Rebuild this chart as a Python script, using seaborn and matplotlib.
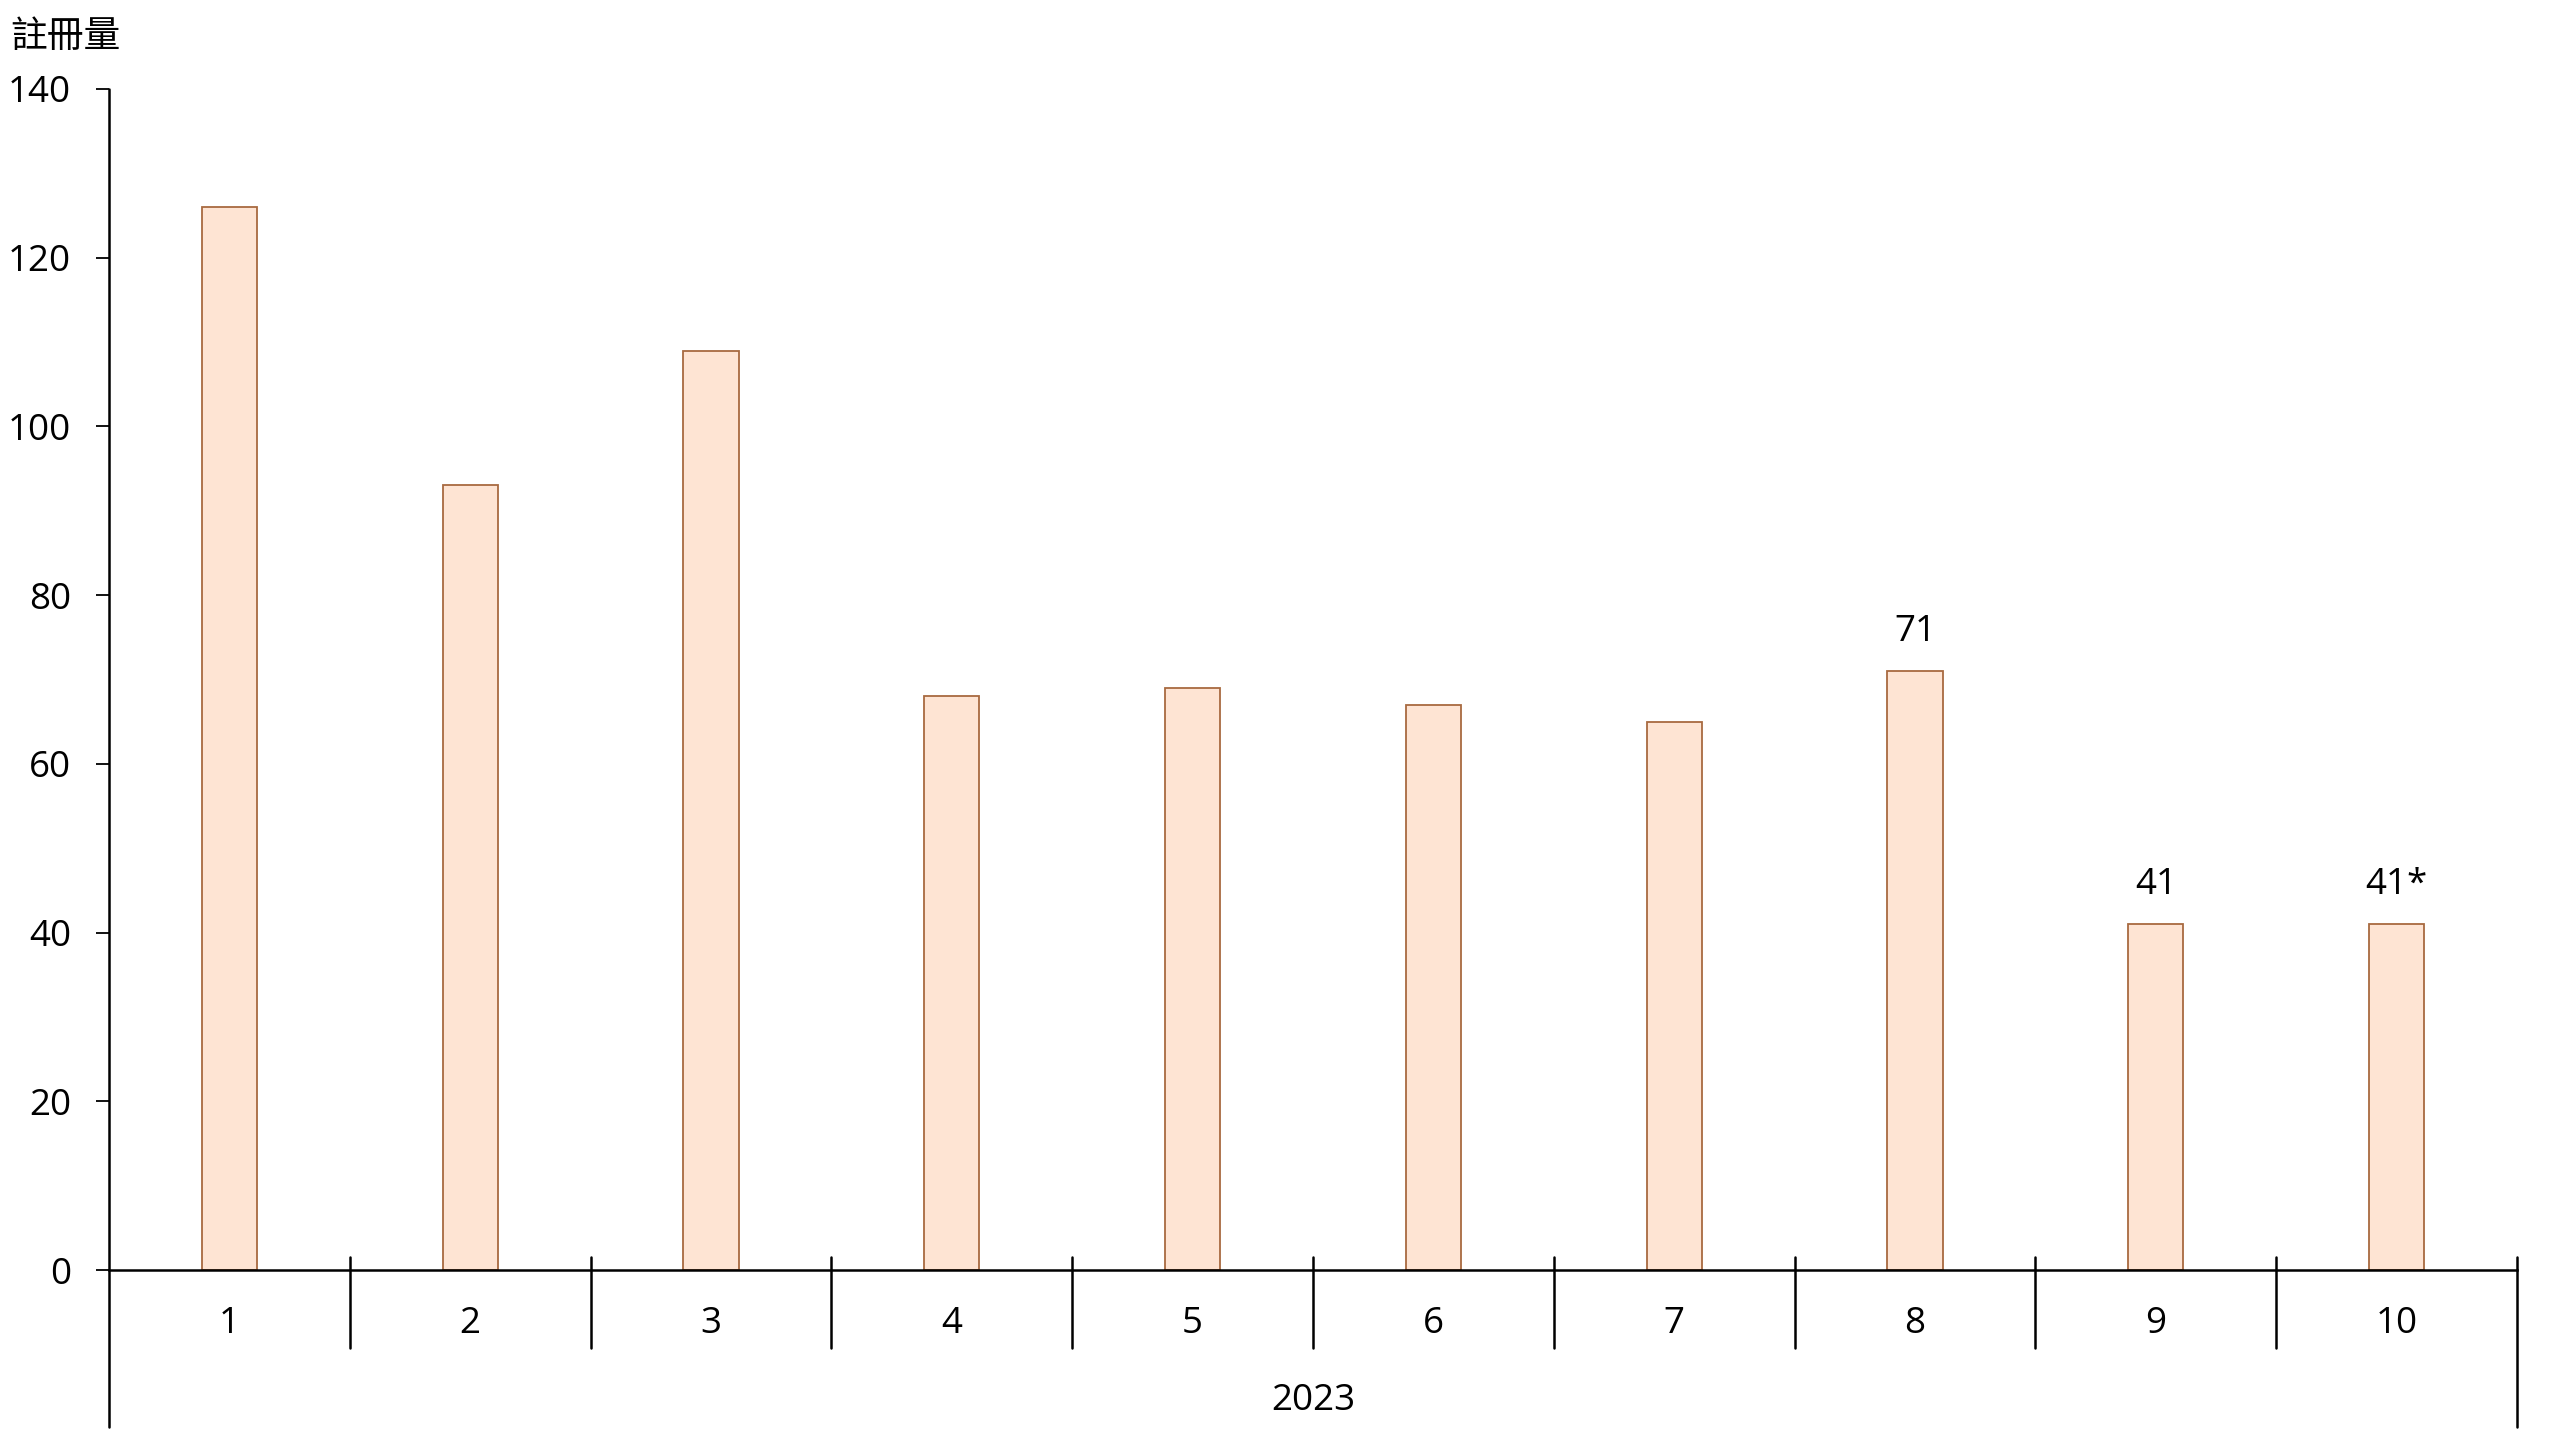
import matplotlib
matplotlib.use("Agg")
import matplotlib.pyplot as plt
import seaborn as sns
import pandas as pd

months = ["1", "2", "3", "4", "5", "6", "7", "8", "9", "10"]
values = [126, 93, 109, 68, 69, 67, 65, 71, 41, 41]
bar_labels = ["", "", "", "", "", "", "", "71", "41", "41*"]
year_label = "2023"
y_title = "註冊量"
y_ticks = [0, 20, 40, 60, 80, 100, 120, 140]

sns.set_theme(style="white")
plt.rcParams['font.family'] = ['Open Sans', 'Noto Sans CJK TC', 'DejaVu Sans']

df = pd.DataFrame({"month": months, "value": values})

fig = plt.figure(figsize=(25.6, 14.4), dpi=100)
ax = fig.add_axes([109/2560, 1 - 1270/1440, (2517-109)/2560, (1270-89)/1440])

sns.barplot(data=df, x="month", y="value", ax=ax, width=0.23,
            color="#FEE4D3", edgecolor="#A86A40", linewidth=1.3, saturation=1)

fs = 26.5
ax.set_ylim(0, 140)
ax.set_xlim(-0.5, len(months) - 0.5)
ax.set_yticks(y_ticks)
ax.set_yticklabels([str(t) for t in y_ticks], fontsize=fs)
ax.tick_params(axis='y', direction='out', length=9.4, width=1.3, color='black', pad=18, left=True)
ax.tick_params(axis='x', length=0, pad=26, labelsize=fs)
ax.set_xlabel("")
ax.set_ylabel("")

for s in ["top", "right"]:
    ax.spines[s].set_visible(False)
ax.spines["left"].set_visible(False)
ax.spines["bottom"].set_color("black")
ax.spines["bottom"].set_linewidth(1.8)

axh = 1270 - 89
lo = -(1427 - 1270) / axh
sep_lo = -(1348 - 1270) / axh
sep_hi = (1270 - 1257) / axh
# left axis line (extends below baseline)
ax.plot([0, 0], [lo, 1], transform=ax.transAxes, color="black", lw=1.8, clip_on=False)
ax.plot([1, 1], [lo, sep_hi], transform=ax.transAxes, color="black", lw=1.8, clip_on=False)
# category separators
trans = ax.get_xaxis_transform()
for i in range(1, len(months)):
    ax.plot([i - 0.5, i - 0.5], [sep_lo, sep_hi], transform=trans, color="black", lw=1.8, clip_on=False)

ax.text(0.5, -(1401 - 1270) / axh, year_label, transform=ax.transAxes,
        ha="center", va="center", fontsize=fs, color="black")

ax.bar_label(ax.containers[0], labels=bar_labels, padding=15, fontsize=fs, color="black")

fig.text(65/2560, 1 - 37/1440, y_title, ha="center", va="center", fontsize=26.5,
         family=['Noto Sans CJK TC', 'DejaVu Sans'], color="black")

for lbl in ax.get_xticklabels() + ax.get_yticklabels():
    lbl.set_color("black")

fig.savefig("out.png", dpi=100, facecolor="white")
